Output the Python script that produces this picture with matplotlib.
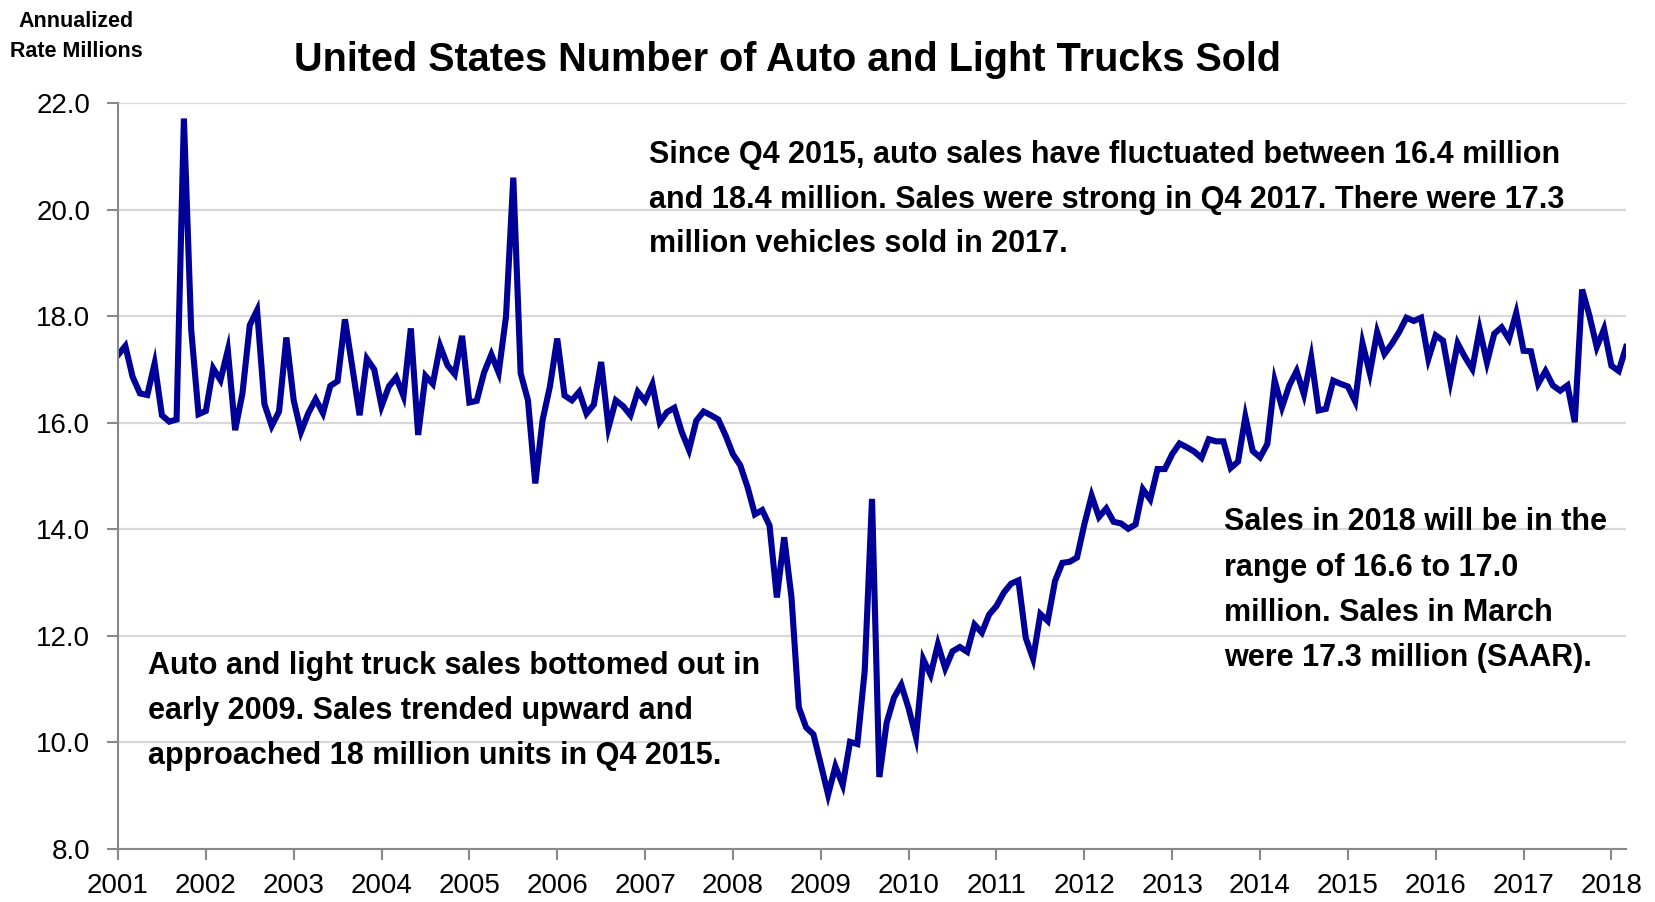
import numpy as np
import matplotlib.pyplot as plt

# Monthly SAAR, millions of units, Jan 2001 - Mar 2018
sales = [
    17.27, 17.44, 16.86, 16.55, 16.52, 17.11, 16.14, 16.02, 16.06, 21.71, 17.74, 16.16,  # 2001
    16.22, 17.02, 16.80, 17.36, 15.86, 16.55, 17.83, 18.11, 16.35, 15.94, 16.21, 17.60,  # 2002
    16.42, 15.83, 16.18, 16.44, 16.18, 16.69, 16.78, 17.94, 17.05, 16.14, 17.20, 17.00,  # 2003
    16.31, 16.68, 16.85, 16.50, 17.77, 15.77, 16.88, 16.73, 17.44, 17.08, 16.91, 17.63,  # 2004
    16.38, 16.41, 16.94, 17.28, 16.94, 17.99, 20.60, 16.93, 16.42, 14.86, 16.05, 16.68,  # 2005
    17.58, 16.51, 16.42, 16.58, 16.17, 16.34, 17.14, 15.91, 16.42, 16.31, 16.14, 16.58,  # 2006
    16.41, 16.72, 16.01, 16.20, 16.28, 15.83, 15.49, 16.04, 16.21, 16.14, 16.06, 15.76,  # 2007
    15.41, 15.20, 14.79, 14.28, 14.36, 14.07, 12.72, 13.85, 12.72, 10.66, 10.28, 10.15,  # 2008
    9.59, 9.02, 9.55, 9.20, 10.01, 9.97, 11.34, 14.57, 9.35, 10.37, 10.84, 11.08,        # 2009
    10.64, 10.10, 11.56, 11.27, 11.84, 11.39, 11.71, 11.79, 11.70, 12.21, 12.06, 12.40,  # 2010
    12.56, 12.81, 12.98, 13.04, 11.96, 11.57, 12.41, 12.28, 13.03, 13.37, 13.39, 13.47,  # 2011
    14.09, 14.63, 14.23, 14.39, 14.14, 14.11, 14.01, 14.09, 14.75, 14.56, 15.13, 15.13,  # 2012
    15.41, 15.61, 15.54, 15.46, 15.34, 15.69, 15.65, 15.65, 15.15, 15.27, 16.11, 15.47,  # 2013
    15.35, 15.60, 16.79, 16.29, 16.70, 16.97, 16.53, 17.22, 16.23, 16.26, 16.79, 16.73,  # 2014
    16.68, 16.40, 17.49, 16.93, 17.70, 17.29, 17.48, 17.70, 17.97, 17.91, 17.97, 17.20,  # 2015
    17.64, 17.54, 16.78, 17.49, 17.23, 17.01, 17.75, 17.13, 17.67, 17.79, 17.57, 18.06,  # 2016
    17.35, 17.34, 16.73, 16.97, 16.70, 16.60, 16.70, 16.01, 18.50, 18.01, 17.42, 17.76,  # 2017
    17.07, 16.97, 17.42,                                                                  # 2018
]
start_year = 2001
years = list(range(2001, 2019))
y_ticks = [8.0, 10.0, 12.0, 14.0, 16.0, 18.0, 20.0, 22.0]

title = "United States Number of Auto and Light Trucks Sold"
note_top = ("Since Q4 2015, auto sales have fluctuated between 16.4 million\n"
            "and 18.4 million. Sales were strong in Q4 2017. There were 17.3\n"
            "million vehicles sold in 2017.")
note_left = ("Auto and light truck sales bottomed out in\n"
             "early 2009. Sales trended upward and\n"
             "approached 18 million units in Q4 2015.")
note_right = ("Sales in 2018 will be in the\n"
              "range of 16.6 to 17.0\n"
              "million. Sales in March\n"
              "were 17.3 million (SAAR).")

plt.rcParams['font.family'] = ['Liberation Sans', 'DejaVu Sans']

x = start_year + np.arange(len(sales)) / 12.0

fig = plt.figure(figsize=(16.55, 9.02), dpi=100)
ax = fig.add_axes([0.0713, 0.0588, 0.9112, 0.827])

ax.plot(x, sales, color='#000099', linewidth=4.4, solid_joinstyle='miter')

ax.set_xlim(x[0], x[-1])
ax.set_ylim(8, 22)
ax.set_xticks(years)
ax.set_xticklabels([str(y) for y in years])
ax.set_yticks(y_ticks)
ax.set_yticklabels([f"{v:.1f}" for v in y_ticks])

ax.yaxis.grid(True, color='#d9d9d9', linewidth=1.6)
ax.set_axisbelow(True)
for side in ['top', 'right']:
    ax.spines[side].set_visible(False)
for side in ['left', 'bottom']:
    ax.spines[side].set_color('#888888')
    ax.spines[side].set_linewidth(1.5)
ax.tick_params(axis='both', colors='#888888', width=1.5, length=8,
               labelcolor='black', labelsize=20)
ax.tick_params(axis='y', pad=12)
ax.tick_params(axis='x', pad=9)

fig.text(0.476, 0.921, title, ha='center', va='baseline',
         fontsize=28.5, fontweight='bold')
fig.text(0.046, 0.988, "Annualized\nRate Millions", ha='center', va='top',
         fontsize=15.5, fontweight='bold', linespacing=1.59)

fig.text(0.392, 0.845, note_top, ha='left', va='top',
         fontsize=22, fontweight='bold', linespacing=1.64)
fig.text(0.0894, 0.2785, note_left, ha='left', va='top',
         fontsize=22, fontweight='bold', linespacing=1.66)
fig.text(0.7396, 0.4375, note_right, ha='left', va='top',
         fontsize=22, fontweight='bold', linespacing=1.66)

fig.savefig('out.png', dpi=100)
